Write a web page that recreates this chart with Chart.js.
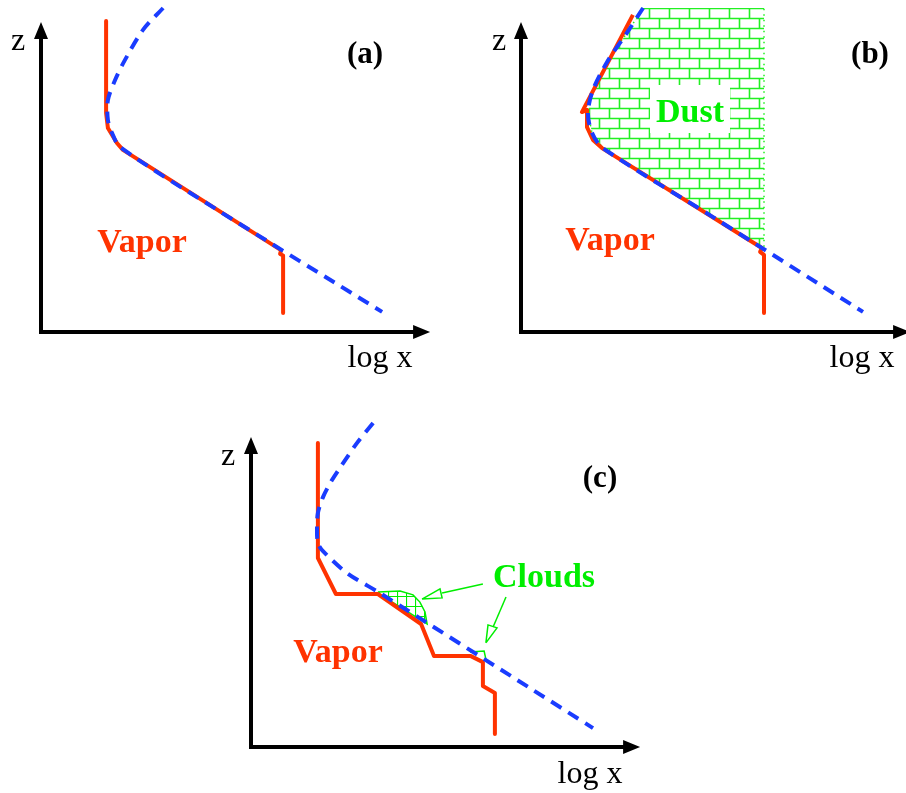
<!DOCTYPE html>
<html>
<head>
<meta charset="utf-8">
<script src="https://cdn.jsdelivr.net/npm/chart.js@4.4.0/dist/chart.umd.min.js"></script>
<style>
  body { margin: 0; background: #fff; width: 906px; height: 793px; position: relative; overflow: hidden; }
  canvas { position: absolute; }
</style>
</head>
<body>
<canvas id="ca" width="453" height="396" style="left:0;top:0"></canvas>
<canvas id="cb" width="453" height="396" style="left:453px;top:0"></canvas>
<canvas id="cc" width="470" height="397" style="left:190px;top:396px"></canvas>
<script>
// schematic units: log x along the horizontal axis, z up the vertical axis
const axisLogX = 12.97
const axisZ = 10.33

// (a) vapor only
const vaporA = [[2.17,10.37],[2.17,7.30],[2.23,6.80],[2.53,6.30],[2.73,6.07],[8.00,2.73],[7.97,2.60],[8.07,2.55],[8.07,0.63]]
const satA = [[4.07,10.8],[3.40,10.07],[2.80,9.07],[2.47,8.40],[2.23,7.73],[2.23,7.07],[2.37,6.63],[2.63,6.17],[5.83,4.10],[11.37,0.67]]

// (b) vapor + dust
const vaporB = [[3.73,10.57],[2.03,7.33],[2.20,7.40],[2.20,6.83],[2.40,6.40],[2.70,6.13],[8.03,2.80],[7.97,2.67],[8.10,2.57],[8.10,0.63]]
const satB = [[4.07,10.8],[3.53,9.97],[2.87,9.00],[2.40,8.07],[2.23,7.30],[2.37,6.63],[2.73,6.13],[6.40,3.83],[11.40,0.67]]
const dustB = [[4.07,10.8],[3.53,9.97],[2.87,9.00],[2.40,8.07],[2.23,7.30],[2.37,6.63],[2.73,6.13],[8.10,2.75],[8.10,10.8]]

// (c) vapor + clouds
const vaporC = [[2.23,10.13],[2.23,6.30],[2.83,5.10],[4.23,5.10],[5.67,4.10],[6.10,3.03],[7.33,3.03],[7.73,2.83],[7.73,2.03],[8.13,1.80],[8.13,0.43]]
const satC = [[4.07,10.8],[3.53,10.13],[3.03,9.40],[2.70,8.90],[2.40,8.33],[2.23,7.80],[2.20,7.33],[2.23,6.80],[2.40,6.53],[3.20,5.80],[4.30,5.13],[9.40,1.90],[11.40,0.63]]
const cloudC1 = [[4.23,5.17],[4.97,5.20],[5.40,5.07],[5.63,4.83],[5.80,4.50],[5.87,4.10],[4.23,5.13]]
const cloudC2 = [[7.30,3.17],[7.77,3.20],[7.83,2.93]]
const leaderC1 = [[7.73,5.43],[6.37,5.13]]
const headC1 = [[5.70,4.93],[6.30,5.27],[6.37,4.97],[5.70,4.93]]
const leaderC2 = [[8.50,5.00],[8.07,4.00]]
const headC2 = [[7.83,3.47],[7.90,4.07],[8.20,3.97],[7.83,3.47]]

const RED = '#ff3300'
const BLUE = '#1a3cff'
const GREEN = '#00ee00'
const BRICK = '#22f022'
const S = 30 // px per unit

function pts(arr) { return arr.map(p => ({x: p[0], y: p[1]})) }

function brickPattern() {
    const c = document.createElement('canvas')
    c.width = 20; c.height = 20
    const g = c.getContext('2d')
    g.fillStyle = '#fff'; g.fillRect(0, 0, 20, 20)
    g.strokeStyle = BRICK; g.lineWidth = 1.6
    g.beginPath()
    g.moveTo(0, 8.5); g.lineTo(20, 8.5)
    g.moveTo(0, 18.5); g.lineTo(20, 18.5)
    g.moveTo(16.5, 8.5); g.lineTo(16.5, 18.5)
    g.moveTo(6.5, 18.5); g.lineTo(6.5, 20)
    g.moveTo(6.5, 0); g.lineTo(6.5, 8.5)
    g.stroke()
    return g.createPattern(c, 'repeat')
}

function gridPattern() {
    const c = document.createElement('canvas')
    c.width = 9; c.height = 10
    const g = c.getContext('2d')
    g.fillStyle = '#fff'; g.fillRect(0, 0, 9, 10)
    g.strokeStyle = GREEN; g.lineWidth = 1.2
    g.beginPath()
    g.moveTo(0, 0.5); g.lineTo(9, 0.5)
    g.moveTo(0.5, 0); g.lineTo(0.5, 10)
    g.stroke()
    return g.createPattern(c, 'repeat')
}

const sat = data => ({
    data: pts(data), borderColor: BLUE, borderWidth: 4, borderDash: [12, 8],
    tension: 0.3, pointRadius: 0, fill: false, order: 1
})
const vapor = data => ({
    data: pts(data), borderColor: RED, borderWidth: 4, tension: 0,
    borderJoinStyle: 'round', pointRadius: 0, fill: false, order: 2
})
const patch = (data, bg, border, w, dash) => ({
    data: pts(data), borderColor: border, backgroundColor: bg, borderWidth: w,
    borderDash: dash || [], tension: 0, pointRadius: 0, fill: 'shape', order: 3
})
const thin = data => ({
    data: pts(data), borderColor: GREEN, borderWidth: 1.5, tension: 0,
    pointRadius: 0, fill: false, order: 0
})

const sketchAxes = {
    id: 'sketchAxes',
    afterDatasetsDraw(chart, args, opts) {
        const {ctx, scales: {x, y}} = chart
        const x0 = x.getPixelForValue(0), y0 = y.getPixelForValue(0)
        const x1 = x.getPixelForValue(axisLogX), y1 = y.getPixelForValue(axisZ)
        ctx.save()
        ctx.strokeStyle = '#000'; ctx.fillStyle = '#000'; ctx.lineWidth = 4
        ctx.beginPath()
        ctx.moveTo(x0, y1 + 12); ctx.lineTo(x0, y0 + 2)
        ctx.moveTo(x0 - 2, y0); ctx.lineTo(x1 - 12, y0)
        ctx.stroke()
        ctx.beginPath()
        ctx.moveTo(x0, y1); ctx.lineTo(x0 - 7, y1 + 17); ctx.lineTo(x0 + 7, y1 + 17); ctx.closePath()
        ctx.moveTo(x1, y0); ctx.lineTo(x1 - 17, y0 - 7); ctx.lineTo(x1 - 17, y0 + 7); ctx.closePath()
        ctx.fill()
        for (const l of opts.labels) {
            if (l.box) {
                ctx.fillStyle = '#fff'
                ctx.fillRect(x0 + l.box[0], y0 + l.box[1], l.box[2], l.box[3])
            }
            ctx.font = l.font
            ctx.fillStyle = l.color || '#000'
            ctx.textAlign = 'center'
            ctx.textBaseline = 'alphabetic'
            ctx.fillText(l.text, x0 + l.dx, y0 + l.dy)
        }
        ctx.restore()
    }
}

const REG = '32px "Liberation Serif", "Times New Roman", serif'
const BOLD = 'bold 34px "Liberation Serif", "Times New Roman", serif'
const TAG = 'bold 31px "Liberation Serif", "Times New Roman", serif'

function makePanel(id, ox, oy, datasets, labels) {
    const cv = document.getElementById(id)
    const W = cv.width, H = cv.height
    new Chart(cv, {
        type: 'line',
        data: {datasets},
        options: {
            responsive: false,
            animation: false,
            layout: {padding: 0},
            scales: {
                x: {type: 'linear', display: false, min: -ox / S, max: (W - ox) / S},
                y: {type: 'linear', display: false, min: -(H - oy) / S, max: oy / S}
            },
            plugins: {
                legend: {display: false},
                tooltip: {enabled: false},
                sketchAxes: {labels}
            }
        },
        plugins: [sketchAxes]
    })
}

makePanel('ca', 41, 332, [sat(satA), vapor(vaporA)], [
    {text: 'z', dx: -23, dy: -282, font: REG},
    {text: '(a)', dx: 324, dy: -269, font: TAG},
    {text: 'log x', dx: 339, dy: 35, font: REG},
    {text: 'Vapor', dx: 101, dy: -80, font: BOLD, color: RED}
])

makePanel('cb', 68, 332, [sat(satB), vapor(vaporB), patch(dustB, brickPattern(), BRICK, 1.5, [1.5, 4])], [
    {text: 'z', dx: -22, dy: -282, font: REG},
    {text: '(b)', dx: 349, dy: -269, font: TAG},
    {text: 'log x', dx: 341, dy: 35, font: REG},
    {text: 'Vapor', dx: 89, dy: -82, font: BOLD, color: RED},
    {text: 'Dust', dx: 169, dy: -210, font: BOLD, color: GREEN, box: [129, -247, 80, 48]}
])

makePanel('cc', 61, 351, [
    sat(satC), vapor(vaporC),
    patch(cloudC1, gridPattern(), GREEN, 1.5), patch(cloudC2, '#fff', GREEN, 1.5),
    thin(leaderC1), thin(leaderC2),
    {...patch(headC1, '#fff', GREEN, 1.5), order: 0}, {...patch(headC2, '#fff', GREEN, 1.5), order: 0}
], [
    {text: 'z', dx: -23, dy: -282, font: REG},
    {text: '(c)', dx: 349, dy: -260, font: TAG},
    {text: 'log x', dx: 339, dy: 36, font: REG},
    {text: 'Vapor', dx: 87, dy: -85, font: BOLD, color: RED},
    {text: 'Clouds', dx: 293, dy: -160, font: BOLD, color: GREEN}
])
</script>
</body>
</html>
